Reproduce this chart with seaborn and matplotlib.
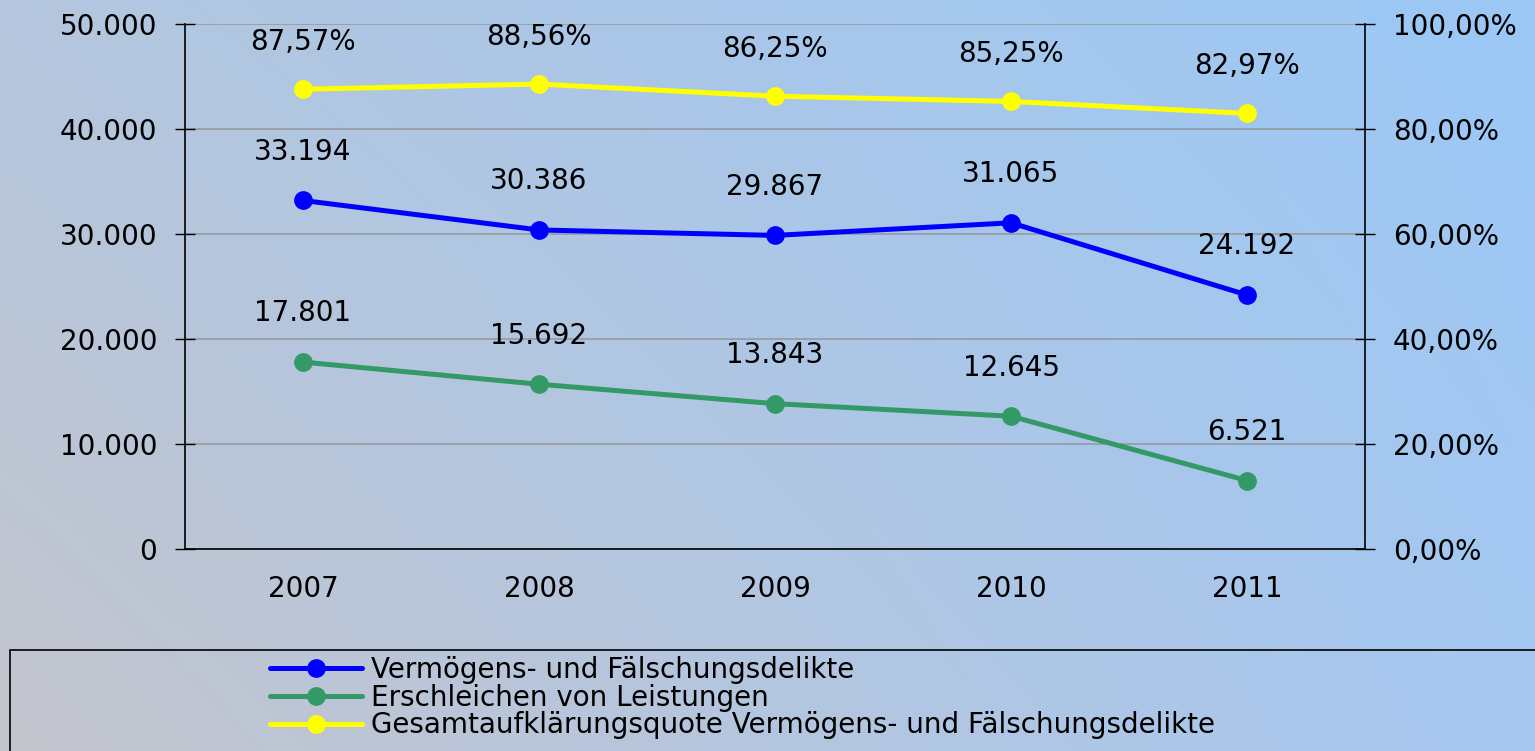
import matplotlib.pyplot as plt
import numpy as np
import pandas as pd
import seaborn as sns
from matplotlib.lines import Line2D
from matplotlib.patches import Rectangle
from matplotlib.ticker import FixedLocator, FuncFormatter

years = ["2007", "2008", "2009", "2010", "2011"]
vermoegen = [33194, 30386, 29867, 31065, 24192]
erschleichen = [17801, 15692, 13843, 12645, 6521]
quote = [87.57, 88.56, 86.25, 85.25, 82.97]

series_names = [
    "Vermögens- und Fälschungsdelikte",
    "Erschleichen von Leistungen",
    "Gesamtaufklärungsquote Vermögens- und Fälschungsdelikte",
]
colors = ["#0000ff", "#339966", "#ffff00"]

df = pd.DataFrame({"Jahr": years, "Vermoegen": vermoegen,
                   "Erschleichen": erschleichen, "Quote": quote})

sns.set_theme(style="white")
plt.rcParams["font.family"] = ["DejaVu Sans"]
plt.rcParams["text.color"] = "black"
plt.rcParams["xtick.color"] = "black"
plt.rcParams["ytick.color"] = "black"
plt.rcParams["xtick.labelcolor"] = "black"
plt.rcParams["ytick.labelcolor"] = "black"

fig = plt.figure(figsize=(15.35, 7.51), dpi=100)

# background gradient
bg = fig.add_axes([0, 0, 1, 1], zorder=-10)
tl = np.array([180, 198, 222]) / 255
tr = np.array([155, 200, 246]) / 255
bl = np.array([196, 197, 205]) / 255
br = np.array([166, 199, 240]) / 255
u = np.linspace(0, 1, 300)[None, :, None]
v = np.linspace(0, 1, 150)[:, None, None]
grad = (1 - v) * ((1 - u) * tl + u * tr) + v * ((1 - u) * bl + u * br)
bg.imshow(grad, aspect="auto", extent=[0, 1, 0, 1])
bg.axis("off")

ax = fig.add_axes([185 / 1535, 1 - 549 / 751, 1180 / 1535, 525 / 751])
ax.set_facecolor("none")
ax2 = ax.twinx()

line_kw = dict(lw=3.6, marker="o", markersize=13.5, markeredgewidth=0, sort=False)
sns.lineplot(data=df, x="Jahr", y="Vermoegen", ax=ax, color=colors[0], **line_kw)
sns.lineplot(data=df, x="Jahr", y="Erschleichen", ax=ax, color=colors[1], **line_kw)
sns.lineplot(data=df, x="Jahr", y="Quote", ax=ax2, color=colors[2], **line_kw)

fs = 20
for i, (a, b, q) in enumerate(zip(vermoegen, erschleichen, quote)):
    ax.annotate(f"{a:,}".replace(",", "."), (i, a), xytext=(0, 35),
                textcoords="offset points", ha="center", va="center", fontsize=fs)
    ax.annotate(f"{b:,}".replace(",", "."), (i, b), xytext=(0, 35),
                textcoords="offset points", ha="center", va="center", fontsize=fs)
    ax2.annotate(f"{q:.2f}%".replace(".", ","), (i, q), xytext=(0, 34),
                 textcoords="offset points", ha="center", va="center", fontsize=fs)

ax.set_xlim(-0.5, 4.5)
ax.set_ylim(0, 50000)
ax2.set_ylim(0, 100)
ax.set_yticks(range(0, 50001, 10000))
ax.yaxis.set_major_formatter(FuncFormatter(lambda v, p: f"{int(v):,}".replace(",", ".")))
ax2.set_yticks(range(0, 101, 20))
ax2.yaxis.set_major_formatter(FuncFormatter(lambda v, p: f"{v:.2f}%".replace(".", ",")))

ax.xaxis.set_major_locator(FixedLocator([0.5, 1.5, 2.5, 3.5]))
ax.xaxis.set_minor_locator(FixedLocator(range(len(years))))
ax.set_xticklabels([], minor=False)
ax.set_xticklabels(years, minor=True)
ax.tick_params(axis="x", which="major", direction="inout", length=11, width=1, color="black")
ax.tick_params(axis="x", which="minor", length=0, pad=19, labelsize=fs)
ax.tick_params(axis="y", direction="inout", length=14, width=1, color="black",
               pad=13, labelsize=fs, left=True)
ax2.tick_params(axis="y", direction="inout", length=14, width=1, color="black",
                pad=13, labelsize=fs, right=True)
ax.set_xlabel("")
ax.set_ylabel("")
ax2.set_ylabel("")

ax.grid(axis="y", color="#959aa1", lw=1.2)
for a in (ax, ax2):
    for s in a.spines.values():
        s.set_visible(False)
ax.spines["left"].set_visible(True)
ax.spines["bottom"].set_visible(True)
ax2.spines["right"].set_visible(True)
for s in (ax.spines["left"], ax.spines["bottom"], ax2.spines["right"]):
    s.set_color("black")
    s.set_linewidth(1.2)

# legend box at the bottom
fig.add_artist(Rectangle((10 / 1535, -0.1), 1.2, 0.1 + 101 / 751,
                         transform=fig.transFigure, fill=False,
                         edgecolor="black", lw=1.2))
handles = [Line2D([], [], color=c, lw=3.6, marker="o", markersize=13.5,
                  markeredgewidth=0) for c in colors]
fig.legend(handles, series_names, loc="upper left",
           bbox_to_anchor=(270 / 1535, 1 - 656 / 751), frameon=False,
           prop={"size": 20}, handlelength=3.3, handletextpad=0.35,
           labelspacing=-0.01, borderpad=0, borderaxespad=0)

fig.savefig("out.png", dpi=100)
